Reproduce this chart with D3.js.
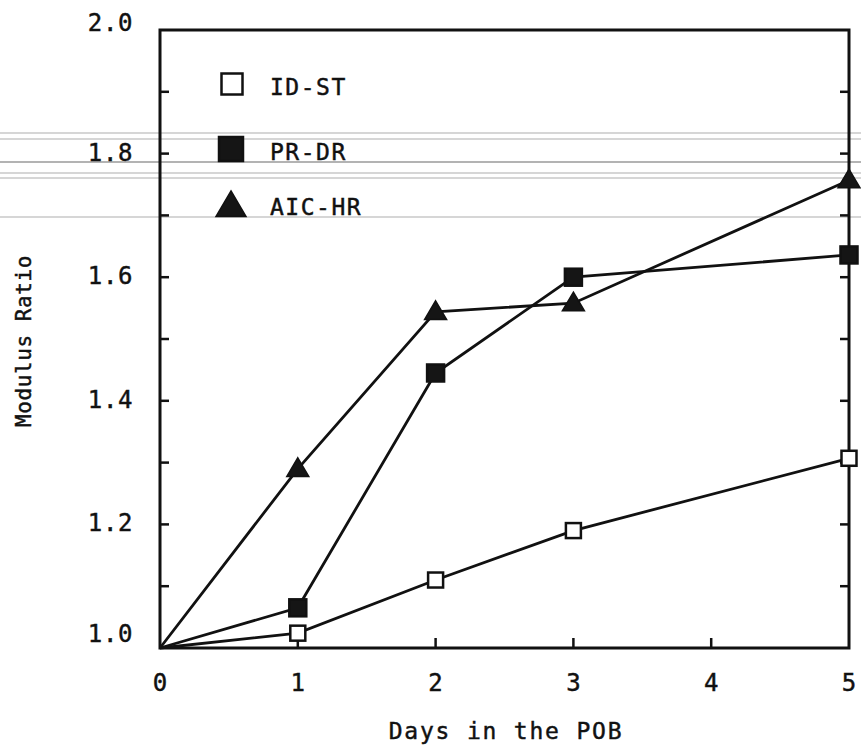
<!DOCTYPE html>
<html><head><meta charset="utf-8">
<script src="https://cdn.jsdelivr.net/npm/d3@7"></script>
<style>body{margin:0;background:#fff}svg{display:block}text{font-family:"DejaVu Sans Mono",monospace;fill:#111;stroke:#111;stroke-width:0.45px}</style>
</head><body><svg id="c" width="861" height="749"></svg>
<script>
const days = [0, 1, 2, 3, 5];
const idst = [1.0, 1.024, 1.11, 1.19, 1.307];
const prdr = [1.0, 1.065, 1.445, 1.600, 1.636];
const aichr = [1.0, 1.29, 1.544, 1.558, 1.757];
const seriesNames = ["ID-ST", "PR-DR", "AIC-HR"];
const xTicks = [0, 1, 2, 3, 4, 5];
const yLabelTicks = [1.0, 1.2, 1.4, 1.6, 1.8, 2.0];
const yMinorTicks = d3.range(1.1, 2.0, 0.1);
const scanLines = [133, 139, 162, 173, 178, 217];

const svg = d3.select("#c");
const x = d3.scaleLinear().domain([0, 5]).range([160, 849]);
const y = d3.scaleLinear().domain([1, 2]).range([648, 30]);

// faint scan lines
svg.append("g").selectAll("line").data(scanLines).join("line")
  .attr("x1", 0).attr("x2", 861).attr("y1", d => d).attr("y2", d => d)
  .attr("stroke", (d, i) => i === 2 ? "#9a9a9a" : "#c8c8c8").attr("stroke-width", 1.5);

// frame
svg.append("rect").attr("x", x(0)).attr("y", y(2)).attr("width", x(5) - x(0)).attr("height", y(1) - y(2))
  .attr("fill", "none").attr("stroke", "#111").attr("stroke-width", 3);

// ticks
const tk = svg.append("g").attr("stroke", "#111").attr("stroke-width", 2.5);
tk.selectAll(".tl").data(yMinorTicks).join("line")
  .attr("x1", x(0)).attr("x2", x(0) + 9).attr("y1", d => y(d)).attr("y2", d => y(d));
tk.selectAll(".tr").data(yMinorTicks).join("line")
  .attr("x1", x(5)).attr("x2", x(5) - 9).attr("y1", d => y(d)).attr("y2", d => y(d));
tk.selectAll(".tb").data(xTicks.slice(1, 5)).join("line")
  .attr("x1", d => x(d)).attr("x2", d => x(d)).attr("y1", y(1)).attr("y2", y(1) - 10);

// tick labels
svg.append("g").selectAll("text").data(yLabelTicks).join("text")
  .attr("x", 133).attr("y", d => y(d) + (d === 1 ? -6 : d === 2 ? 1 : 7))
  .attr("text-anchor", "end").attr("font-size", 24).attr("letter-spacing", 0.6)
  .text(d => d.toFixed(1));
svg.append("g").selectAll("text").data(xTicks).join("text")
  .attr("x", d => x(d)).attr("y", 691)
  .attr("text-anchor", "middle").attr("font-size", 24)
  .text(d => d);

// axis titles
svg.append("text").attr("x", 506).attr("y", 739).attr("text-anchor", "middle")
  .attr("font-size", 23).attr("letter-spacing", 1.8).text("Days in the POB");
svg.append("text").attr("transform", "translate(31,341) rotate(-90)").attr("text-anchor", "middle")
  .attr("font-size", 21).attr("letter-spacing", 0.6).text("Modulus Ratio");

// lines
const line = d3.line().x(d => x(d[0])).y(d => y(d[1]));
const allSeries = [idst, prdr, aichr];
svg.append("g").selectAll("path").data(allSeries).join("path")
  .attr("d", s => line(days.map((d, i) => [d, s[i]])))
  .attr("fill", "none").attr("stroke", "#111").attr("stroke-width", 2.8);

// markers
const sq = (g, cx, cy, s, filled) => g.append("rect").attr("x", cx - s / 2).attr("y", cy - s / 2)
  .attr("width", s).attr("height", s).attr("fill", filled ? "#151515" : "#fff")
  .attr("stroke", "#111").attr("stroke-width", 2.5);
const tri = (g, cx, cy, w) => g.append("path")
  .attr("d", `M${cx},${cy - w * 0.5}L${cx + w / 2},${cy + w * 0.35}L${cx - w / 2},${cy + w * 0.35}Z`)
  .attr("fill", "#151515").attr("stroke", "#111").attr("stroke-width", 1.5);

const mk = svg.append("g");
days.slice(1).forEach((d, j) => {
  const i = j + 1;
  sq(mk, x(d), y(idst[i]), 15, false);
  sq(mk, x(d), y(prdr[i]), 17, true);
  tri(mk, x(d), y(aichr[i]), 22);
});

// legend
const lg = svg.append("g");
sq(lg, 232, 84, 21, false);
sq(lg, 231, 149, 24, true);
tri(lg, 231, 206, 30);
const legY = [95, 160, 215];
lg.selectAll("text").data(seriesNames).join("text")
  .attr("x", 270).attr("y", (d, i) => legY[i]).attr("font-size", 23).attr("letter-spacing", 1.5)
  .text(d => d);
</script></body></html>
